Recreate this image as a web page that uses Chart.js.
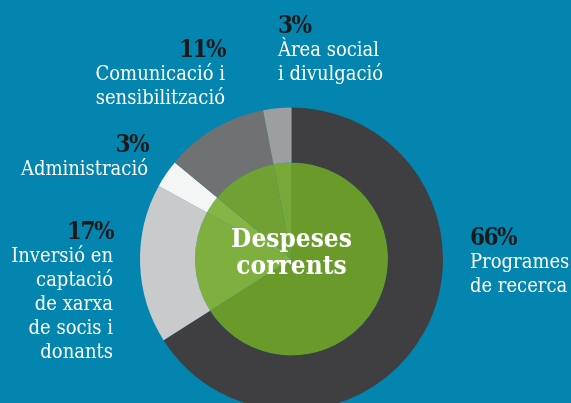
<!DOCTYPE html>
<html>
<head>
<meta charset="utf-8">
<script src="https://cdn.jsdelivr.net/npm/chart.js@4"></script>
<style>
  html, body { margin: 0; padding: 0; width: 571px; height: 403px; overflow: hidden; background: #0385b0; }
  #wrap { position: absolute; left: 0; top: 0; width: 571px; height: 411px; }
  .lbl { position: absolute; font-family: 'DejaVu Serif Condensed', 'Liberation Serif', serif; font-stretch: condensed; font-size: 20px; line-height: 24px; color: #fff; white-space: nowrap; }
  .lbl .pct { font-weight: bold; font-size: 24px; color: #1a1a1a; letter-spacing: -1.5px; }
  #center { position: absolute; left: 191px; width: 201px; top: 225px; text-align: center; font-family: 'DejaVu Serif Condensed', 'Liberation Serif', serif; font-stretch: condensed; font-weight: bold; font-size: 26px; line-height: 27px; color: #fff; }
</style>
</head>
<body>
<div id="wrap"><canvas id="chart"></canvas></div>
<div id="center">Despeses<br>corrents</div>
<script>
// Slices clockwise from 12 o'clock
const categories = ['Programes de recerca', 'Inversió en captació de xarxa de socis i donants', 'Administració', 'Comunicació i sensibilització', 'Àrea social i divulgació']
const values = [66, 17, 3, 11, 3]
const labelLines = [
  ['Programes', 'de recerca'],
  ['Inversió en', 'captació', 'de xarxa', 'de socis i', 'donants'],
  ['Administració'],
  ['Comunicació i', 'sensibilització'],
  ['Àrea social', 'i divulgació']
]

const SLICE_COLORS = ['#3f3f41', '#c9cacc', '#f4f5f5', '#707173', '#9d9ea0']
const GREEN = [113, 170, 38]
const GREEN_ALPHA = 0.85

// where each label block sits (top, and left or right edge)
const LABEL_POS = [
  { top: 225, left: 470 },
  { top: 219, right: 458 },
  { top: 132, right: 423 },
  { top: 37, right: 346 },
  { top: 13, left: 278 }
]

function tint (hex) {
  const c = [1, 3, 5].map((i) => parseInt(hex.slice(i, i + 2), 16))
  const m = c.map((v, i) => Math.round(GREEN[i] * GREEN_ALPHA + v * (1 - GREEN_ALPHA)))
  return `rgb(${m.join(',')})`
}

new Chart(document.getElementById('chart'), {
  type: 'pie',
  data: {
    labels: categories,
    datasets: [
      {
        data: values,
        backgroundColor: SLICE_COLORS,
        borderWidth: 0,
        weight: 0.363
      },
      {
        data: values,
        backgroundColor: SLICE_COLORS.map(tint),
        borderWidth: 0,
        weight: 0.637
      }
    ]
  },
  options: {
    responsive: true,
    maintainAspectRatio: false,
    animation: false,
    events: [],
    layout: { padding: { left: 140, right: 128, top: 107, bottom: 0 } },
    plugins: {
      legend: { display: false },
      tooltip: { enabled: false }
    }
  }
})

for (const [index, lines] of labelLines.entries()) {
  const pos = LABEL_POS[index]
  const div = document.createElement('div')
  div.className = 'lbl'
  div.style.top = pos.top + 'px'
  if (pos.left !== undefined) {
    div.style.left = pos.left + 'px'
    div.style.textAlign = 'left'
  } else {
    div.style.right = pos.right + 'px'
    div.style.textAlign = 'right'
  }
  const pct = document.createElement('div')
  pct.className = 'pct'
  pct.textContent = values[index] + '%'
  div.appendChild(pct)
  for (const line of lines) {
    const row = document.createElement('div')
    row.textContent = line
    div.appendChild(row)
  }
  document.body.appendChild(div)
}
</script>
</body>
</html>
